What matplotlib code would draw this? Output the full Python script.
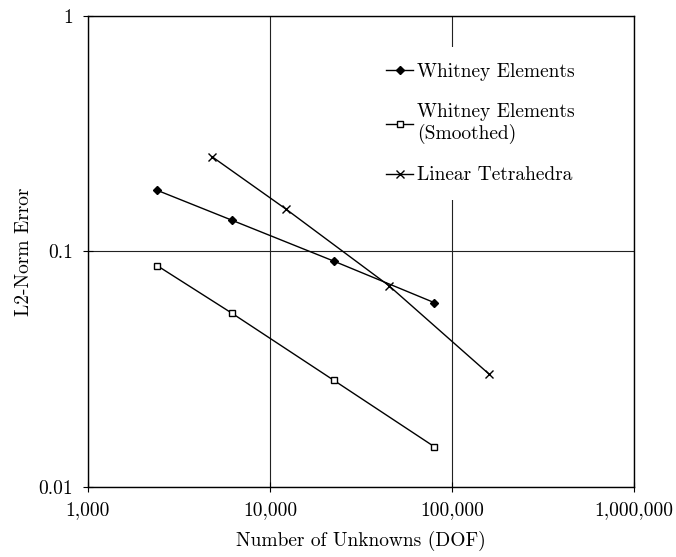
import matplotlib
matplotlib.use("Agg")
import matplotlib.pyplot as plt
from matplotlib.ticker import FixedLocator, NullLocator

plt.rcParams['font.family'] = 'cmr10'
plt.rcParams['axes.formatter.use_mathtext'] = True

# data
whitney_dof = [2400, 6150, 22500, 80000]
whitney_err = [0.182, 0.136, 0.0909, 0.0606]

smoothed_dof = [2400, 6150, 22500, 80000]
smoothed_err = [0.0871, 0.0548, 0.0283, 0.0148]

linear_dof = [4800, 12300, 45000, 160000]
linear_err = [0.253, 0.151, 0.0716, 0.0301]

x_ticks = [1e3, 1e4, 1e5, 1e6]
x_tick_labels = ['1,000', '10,000', '100,000', '1,000,000']
y_ticks = [0.01, 0.1, 1]
y_tick_labels = ['0.01', '0.1', '1']

fig = plt.figure(figsize=(6.76, 5.57), dpi=100)
ax = fig.add_axes([0.130, 0.126, 0.808, 0.845])

ax.set_xscale('log')
ax.set_yscale('log')
ax.set_xlim(1e3, 1e6)
ax.set_ylim(0.01, 1)

ax.plot(whitney_dof, whitney_err, color='black', lw=1, marker='D', ms=4.5,
        mfc='black', label='Whitney Elements')
ax.plot(smoothed_dof, smoothed_err, color='black', lw=1, marker='s', ms=5,
        mfc='white', mew=1, label='Whitney Elements\n(Smoothed)')
ax.plot(linear_dof, linear_err, color='black', lw=1, marker='x', ms=6,
        mew=1, label='Linear Tetrahedra')

ax.xaxis.set_major_locator(FixedLocator(x_ticks))
ax.set_xticklabels(x_tick_labels)
ax.yaxis.set_major_locator(FixedLocator(y_ticks))
ax.set_yticklabels(y_tick_labels)
ax.xaxis.set_minor_locator(NullLocator())
ax.yaxis.set_minor_locator(NullLocator())
ax.tick_params(direction='inout', length=7, width=0.8, labelsize=14, pad=7)

ax.grid(True, which='major', color='#222222', lw=0.8)
for s in ax.spines.values():
    s.set_linewidth(1.0)

ax.set_xlabel('Number of Unknowns (DOF)', fontsize=14, labelpad=8)
ax.set_ylabel('L2-Norm Error', fontsize=14, labelpad=4)

leg = ax.legend(loc='upper left', bbox_to_anchor=(0.50, 0.955), fontsize=14,
                frameon=True, fancybox=False, framealpha=1, edgecolor='none',
                handlelength=1.4, handletextpad=0.2, labelspacing=1.15,
                borderpad=0.8)

fig.savefig('out.png', dpi=100)
